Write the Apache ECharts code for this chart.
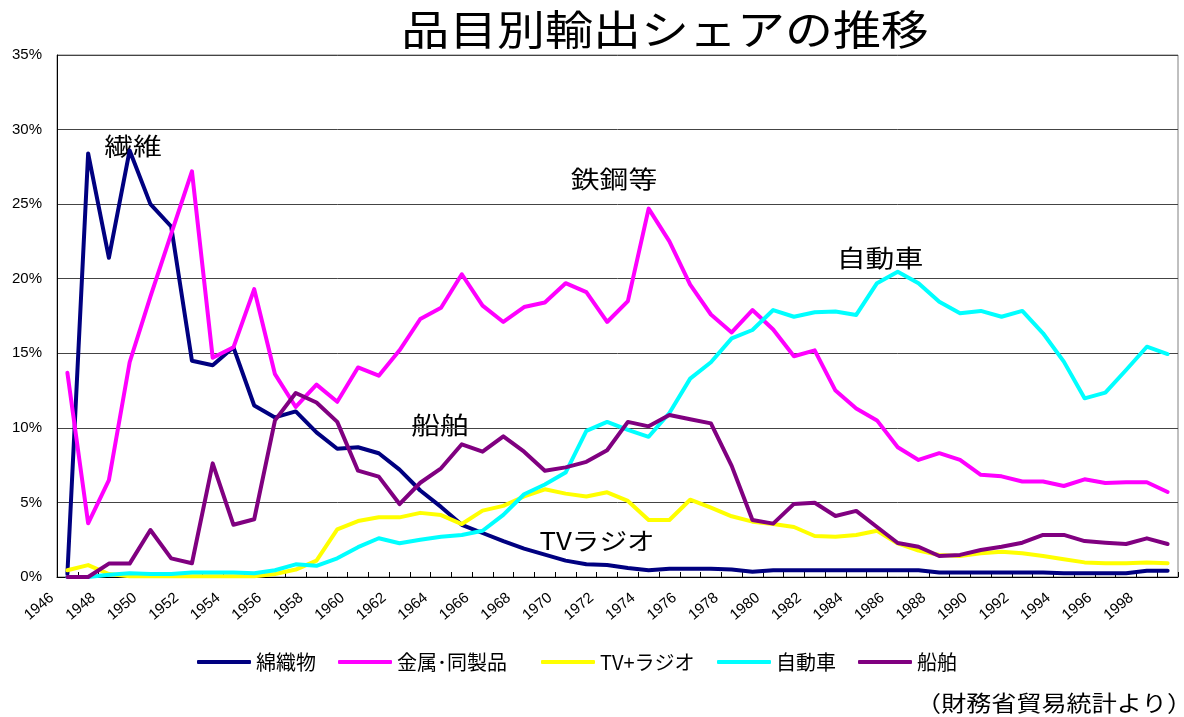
<!DOCTYPE html>
<html>
<head>
<meta charset="utf-8">
<script src="https://cdn.jsdelivr.net/npm/echarts@6/dist/echarts.min.js"></script>
<style>
html,body{margin:0;padding:0;background:#fff;}
#chart{width:1184px;height:717px;}
</style>
</head>
<body>
<div id="chart"></div>
<script>
const years = ['1946','1947','1948','1949','1950','1951','1952','1953','1954','1955',
  '1956','1957','1958','1959','1960','1961','1962','1963','1964','1965',
  '1966','1967','1968','1969','1970','1971','1972','1973','1974','1975',
  '1976','1977','1978','1979','1980','1981','1982','1983','1984','1985',
  '1986','1987','1988','1989','1990','1991','1992','1993','1994','1995',
  '1996','1997','1998','1999'];

const seriesNames = ['綿織物','金属･同製品','TV+ラジオ','自動車','船舶'];

const cotton = [0.2,28.4,21.4,28.6,25.0,23.5,14.5,14.2,15.4,11.5,
  10.7,11.1,9.7,8.6,8.7,8.3,7.2,5.8,4.7,3.5,
  2.95,2.4,1.9,1.5,1.1,0.85,0.8,0.6,0.45,0.55,
  0.55,0.55,0.5,0.35,0.45,0.45,0.45,0.45,0.45,0.45,
  0.45,0.45,0.3,0.3,0.3,0.3,0.3,0.3,0.25,0.25,
  0.25,0.25,0.42,0.42];

const metal = [13.7,3.6,6.5,14.4,18.8,23.0,27.2,14.7,15.4,19.3,
  13.6,11.4,12.9,11.75,14.05,13.5,15.2,17.3,18.05,20.3,
  18.2,17.1,18.1,18.4,19.7,19.1,17.1,18.5,24.7,22.5,
  19.6,17.6,16.4,17.9,16.6,14.8,15.2,12.5,11.3,10.5,
  8.7,7.85,8.3,7.85,6.85,6.75,6.4,6.4,6.1,6.55,
  6.3,6.35,6.35,5.7];

const tvRadio = [0.45,0.8,0.2,0.05,0.05,0.05,0.05,0.05,0.05,0.05,
  0.2,0.5,1.1,3.2,3.75,4.0,4.0,4.3,4.15,3.55,
  4.45,4.77,5.4,5.88,5.59,5.4,5.68,5.1,3.82,3.82,
  5.18,4.65,4.07,3.71,3.55,3.35,2.75,2.7,2.82,3.1,
  2.25,1.77,1.48,1.41,1.59,1.7,1.59,1.41,1.19,0.98,
  0.92,0.92,0.98,0.92];

const autos = [0,0,0.15,0.25,0.2,0.2,0.3,0.3,0.3,0.25,
  0.45,0.85,0.75,1.25,2.0,2.6,2.26,2.5,2.7,2.82,
  3.1,4.16,5.55,6.2,7.0,9.8,10.4,9.86,9.4,11.0,
  13.3,14.4,16.0,16.56,17.9,17.45,17.75,17.8,17.57,19.7,
  20.47,19.7,18.46,17.68,17.84,17.45,17.84,16.34,14.44,11.98,
  12.36,13.88,15.44,14.95];

const ships = [0,0,0.9,0.9,3.15,1.25,0.92,7.62,3.5,3.87,
  10.5,12.34,11.7,10.4,7.13,6.73,4.89,6.32,7.29,8.9,
  8.4,9.43,8.4,7.13,7.35,7.72,8.5,10.4,10.1,10.86,
  10.58,10.3,7.45,3.82,3.58,4.9,4.98,4.09,4.43,3.35,
  2.28,2.03,1.41,1.48,1.81,2.03,2.3,2.82,2.82,2.41,
  2.3,2.21,2.59,2.21];

const yTicks = [0,5,10,15,20,25,30,35];

const colors = ['#000080','#FF00FF','#FFFF00','#00FFFF','#800080'];
const values = [cotton, metal, tvRadio, autos, ships];

const cjk = '"Noto Sans CJK JP", "Noto Sans", sans-serif';
const latin = '"Liberation Sans", Arial, sans-serif';

const chart = echarts.init(document.getElementById('chart'), null, {renderer:'canvas'});

const legendLeft = [192, 333, 536, 712, 853];

const option = {
  backgroundColor: '#ffffff',
  animation: false,
  grid: {
    left: 57, right: 6, top: 55, bottom: 140,
    show: true, borderColor: '#808080', borderWidth: 1, backgroundColor: 'transparent'
  },
  legend: seriesNames.map((n, i) => ({
    data: [n],
    left: legendLeft[i],
    top: 647,
    icon: 'roundRect',
    itemWidth: 54,
    itemHeight: 4,
    itemGap: 5,
    textStyle: { fontSize: 20, color: '#000', fontFamily: cjk }
  })),
  xAxis: {
    type: 'category',
    data: years,
    boundaryGap: true,
    axisLine: { show: true, lineStyle: { color: '#000', width: 1 } },
    axisTick: { show: true, inside: true, length: 5, interval: 0, lineStyle: { color: '#000' } },
    axisLabel: {
      interval: 1,
      rotate: 40,
      margin: 6,
      padding: [0, 20, 0, 0],
      fontSize: 15,
      color: '#000',
      fontFamily: latin
    },
    splitLine: { show: false }
  },
  yAxis: {
    type: 'value',
    min: yTicks[0],
    max: yTicks[yTicks.length - 1],
    interval: 5,
    axisLine: { show: true, lineStyle: { color: '#000', width: 1 } },
    axisTick: { show: false },
    axisLabel: {
      formatter: '{value}%',
      margin: 15,
      fontSize: 15,
      color: '#000',
      fontFamily: latin
    },
    splitLine: { show: true, lineStyle: { color: '#444', width: 1 } }
  },
  series: seriesNames.map((n, i) => ({
    name: n,
    type: 'line',
    data: values[i],
    symbol: 'none',
    smooth: false,
    color: colors[i],
    lineStyle: { width: 4, color: colors[i], cap: 'round', join: 'round' },
    emphasis: { disabled: true }
  })),
  graphic: [
    { type: 'text', x: 665, y: 29, scaleX: 1.17,
      style: { text: '品目別輸出シェアの推移', font: '41px ' + cjk, fill: '#000',
               align: 'center', verticalAlign: 'middle', textAlign: 'center', textVerticalAlign: 'middle' } },
    { type: 'text', x: 133, y: 146, scaleX: 1.2,
      style: { text: '繊維', font: '24px ' + cjk, fill: '#000',
               align: 'center', verticalAlign: 'middle', textAlign: 'center', textVerticalAlign: 'middle' } },
    { type: 'text', x: 614, y: 179, scaleX: 1.2,
      style: { text: '鉄鋼等', font: '24px ' + cjk, fill: '#000',
               align: 'center', verticalAlign: 'middle', textAlign: 'center', textVerticalAlign: 'middle' } },
    { type: 'text', x: 880, y: 258, scaleX: 1.2,
      style: { text: '自動車', font: '24px ' + cjk, fill: '#000',
               align: 'center', verticalAlign: 'middle', textAlign: 'center', textVerticalAlign: 'middle' } },
    { type: 'text', x: 440, y: 425, scaleX: 1.2,
      style: { text: '船舶', font: '24px ' + cjk, fill: '#000',
               align: 'center', verticalAlign: 'middle', textAlign: 'center', textVerticalAlign: 'middle' } },
    { type: 'text', x: 597, y: 541, scaleX: 1.15,
      style: { text: 'TVラジオ', font: '24px ' + cjk, fill: '#000',
               align: 'center', verticalAlign: 'middle', textAlign: 'center', textVerticalAlign: 'middle' } },
    { type: 'text', x: 1192, y: 703, scaleX: 1.14,
      style: { text: '（財務省貿易統計より）', font: '22px ' + cjk, fill: '#000',
               align: 'right', verticalAlign: 'middle', textAlign: 'right', textVerticalAlign: 'middle' } }
  ]
};

chart.setOption(option);
</script>
</body>
</html>
